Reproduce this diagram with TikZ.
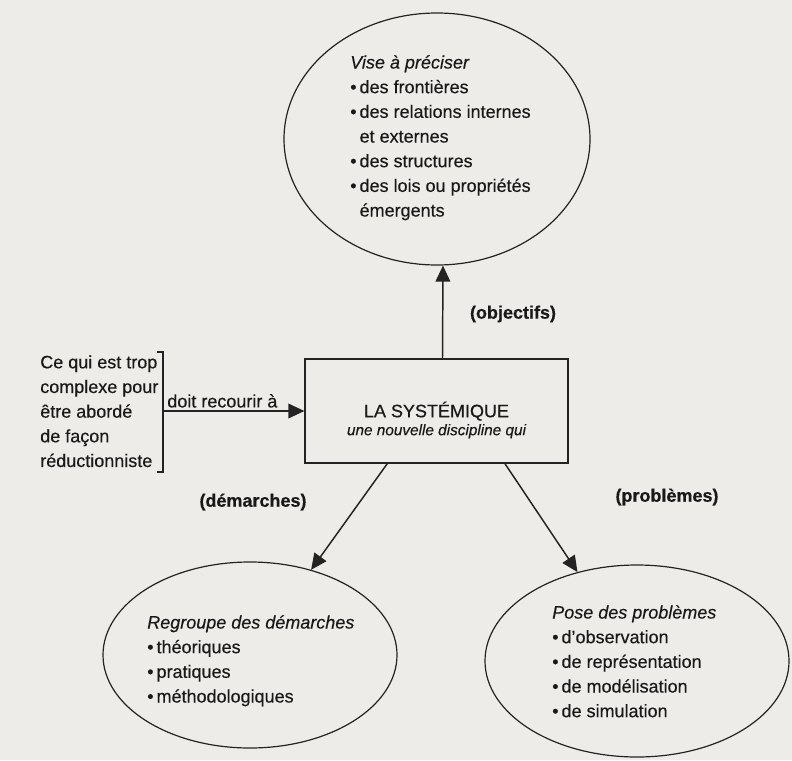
\documentclass[tikz,border=0pt]{standalone}
\usepackage{fontspec}
\setmainfont{Liberation Sans}[FakeBold=0.35]
\definecolor{sysFond}{RGB}{237,236,232}
\definecolor{sysTrait}{RGB}{35,35,35}
\definecolor{sysTexte}{RGB}{25,25,25}
\usetikzlibrary{arrows.meta,shapes.geometric}
\newcommand{\puce}{\textbullet\,}

\begin{document}
\begin{tikzpicture}[
    x=0.75pt, y=-0.75pt,
    bulle/.style={ellipse, draw=sysTrait, line width=0.9pt, inner sep=0pt},
    cadre/.style={rectangle, draw=sysTrait, line width=1.2pt,
                  minimum width=197pt, minimum height=78pt},
    liste/.style={anchor=north west, inner sep=0pt, align=left, text=sysTexte,
                  font=\fontsize{13.5}{18.5}\selectfont},
    etiq/.style={inner sep=1pt, text=sysTexte, font=\fontsize{13.5}{16}\selectfont\bfseries},
    fleche/.style={-{Triangle[length=12pt, width=11pt]}, draw=sysTrait, line width=1.1pt}
  ]
  \fill[sysFond] (0,0) rectangle (792,760);

  % les trois bulles et le cadre central
  \node[bulle, minimum width=229.5pt, minimum height=189pt] (vise)      at (437,139) {};
  \node[bulle, minimum width=220.5pt, minimum height=139.5pt] (regroupe) at (250,655) {};
  \node[bulle, minimum width=228pt, minimum height=144pt]   (pose)      at (637,661) {};
  \node[cadre] (systemique) at (436.5,411) {};
  \node[align=center, inner sep=0pt, text=sysTexte, font=\fontsize{13.5}{13.5}\selectfont]
    (titre) at (436.5,420) {LA SYSTÉMIQUE\\ {\fontsize{11.5}{13.5}\selectfont\itshape une nouvelle discipline qui}};

  % textes
  \node[liste] (vise-txt) at (350,55) {\textit{Vise à préciser}\\ \puce des frontières\\
    \puce des relations internes\\ \hspace*{7pt}et externes\\ \puce des structures\\
    \puce des lois ou propriétés\\ \hspace*{7pt}émergents};
  \node[liste] (complexe) at (40,355) {Ce qui est trop\\ complexe pour\\ être abordé\\
    de façon\\ réductionniste};
  \node[liste] (regroupe-txt) at (147,615) {\textit{Regroupe des démarches}\\
    \puce théoriques\\ \puce pratiques\\ \puce méthodologiques};
  \node[liste] (pose-txt) at (552,605) {\textit{Pose des problèmes}\\ \puce d’observation\\
    \puce de représentation\\ \puce de modélisation\\ \puce de simulation};

  % crochet et fleches
  \draw[sysTrait, line width=1.1pt] (157,352) -- (163,352) -- (163,472) -- (157,472);
  \coordinate (crochet) at (163,411);
  \draw[fleche] (crochet) -- (systemique.west)
    node[pos=0.42, above, inner sep=2pt, text=sysTexte, font=\fontsize{13.5}{16}\selectfont] (recourir) {doit recourir à};
  \draw[fleche] ([xshift=4.5pt]systemique.north) -- ([xshift=4.5pt]vise.south);
  \draw[fleche] ([xshift=-37pt]systemique.south) -- (regroupe);
  \draw[fleche] ([xshift=51.4pt]systemique.south) -- (pose);

  \node[etiq] (objectifs) at (513,314) {(objectifs)};
  \node[etiq] (demarches) at (253,502) {(démarches)};
  \node[etiq] (problemes) at (667,497) {(problèmes)};
\end{tikzpicture}
\end{document}
